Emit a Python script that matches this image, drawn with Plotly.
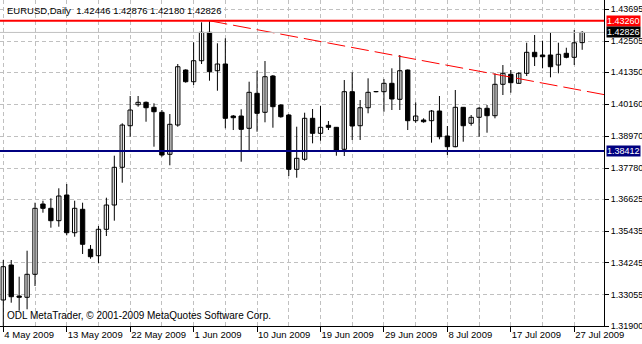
import plotly.graph_objects as go
from datetime import date

# ---------------- data ----------------
dates = [
    "2009-05-04", "2009-05-05", "2009-05-06", "2009-05-07", "2009-05-08", "2009-05-10",
    "2009-05-11", "2009-05-12", "2009-05-13", "2009-05-14", "2009-05-15", "2009-05-17",
    "2009-05-18", "2009-05-19", "2009-05-20", "2009-05-21", "2009-05-22", "2009-05-24",
    "2009-05-25", "2009-05-26", "2009-05-27", "2009-05-28", "2009-05-29", "2009-05-31",
    "2009-06-01", "2009-06-02", "2009-06-03", "2009-06-04", "2009-06-05", "2009-06-07",
    "2009-06-08", "2009-06-09", "2009-06-10", "2009-06-11", "2009-06-12", "2009-06-14",
    "2009-06-15", "2009-06-16", "2009-06-17", "2009-06-18", "2009-06-19", "2009-06-21",
    "2009-06-22", "2009-06-23", "2009-06-24", "2009-06-25", "2009-06-26", "2009-06-28",
    "2009-06-29", "2009-06-30", "2009-07-01", "2009-07-02", "2009-07-03", "2009-07-05",
    "2009-07-06", "2009-07-07", "2009-07-08", "2009-07-09", "2009-07-10", "2009-07-12",
    "2009-07-13", "2009-07-14", "2009-07-15", "2009-07-16", "2009-07-17", "2009-07-19",
    "2009-07-20", "2009-07-21", "2009-07-22", "2009-07-23", "2009-07-24", "2009-07-26",
    "2009-07-27", "2009-07-28",
]
opens = [
    1.32868, 1.34170, 1.33016, 1.32968, 1.33824, 1.36440,
    1.36280, 1.35819, 1.36775, 1.35372, 1.36243, 1.34754,
    1.34516, 1.35499, 1.36403, 1.37806, 1.39354, 1.40136,
    1.40225, 1.40039, 1.39853, 1.38290, 1.39380, 1.41427,
    1.40992, 1.41773, 1.42830, 1.41401, 1.41651, 1.39715,
    1.39715, 1.39258, 1.40560, 1.39853, 1.41204, 1.40125,
    1.39753, 1.37732, 1.38104, 1.39630, 1.39072, 1.39369,
    1.39295, 1.38476, 1.40620, 1.39354, 1.40024, 1.40620,
    1.40620, 1.40932, 1.40337, 1.41427, 1.39541, 1.39567,
    1.39541, 1.39901, 1.38971, 1.38573, 1.40039, 1.39444,
    1.39667, 1.40002, 1.39727, 1.40895, 1.41267, 1.40932,
    1.41305, 1.42086, 1.41986, 1.41986, 1.41613, 1.42049,
    1.41900, 1.42446,
]
highs = [
    1.34356, 1.34356, 1.33735, 1.34702, 1.36489, 1.36563,
    1.36652, 1.37025, 1.37185, 1.36563, 1.36489, 1.34914,
    1.35622, 1.36675, 1.38238, 1.39444, 1.40460, 1.40460,
    1.40255, 1.40188, 1.39939, 1.39790, 1.41651, 1.41453,
    1.42458, 1.43203, 1.43260, 1.42421, 1.42607, 1.39753,
    1.39965, 1.40992, 1.41401, 1.41762, 1.41241, 1.40151,
    1.39790, 1.39317, 1.39838, 1.39976, 1.40088, 1.39529,
    1.39306, 1.41055, 1.41342, 1.40311, 1.41118, 1.40646,
    1.41092, 1.41491, 1.41986, 1.41446, 1.40225, 1.39630,
    1.39939, 1.40460, 1.39343, 1.40683, 1.40050, 1.39753,
    1.40050, 1.40125, 1.41305, 1.41613, 1.41427, 1.41342,
    1.42443, 1.42730, 1.42518, 1.42830, 1.42443, 1.42257,
    1.42916, 1.42876,
]
lows = [
    1.31900, 1.32767, 1.32469, 1.32522, 1.33389, 1.36117,
    1.35558, 1.35596, 1.35275, 1.35223, 1.34580, 1.34405,
    1.34233, 1.35249, 1.35819, 1.37233, 1.38945, 1.40062,
    1.39503, 1.38573, 1.38201, 1.37881, 1.39317, 1.40955,
    1.40869, 1.41651, 1.41029, 1.40657, 1.39258, 1.39194,
    1.38015, 1.38450, 1.39131, 1.39481, 1.39280, 1.39652,
    1.37482, 1.37419, 1.38052, 1.38699, 1.38796, 1.39194,
    1.38238, 1.38227, 1.38822, 1.38822, 1.39816, 1.40597,
    1.39875, 1.39939, 1.39939, 1.39194, 1.39466, 1.39466,
    1.38722, 1.38848, 1.38264, 1.38551, 1.38759, 1.39354,
    1.38945, 1.39094, 1.39630, 1.40497, 1.40583, 1.40920,
    1.41204, 1.41576, 1.41491, 1.41156, 1.41305, 1.41863,
    1.41613, 1.42180,
]
closes = [
    1.34107, 1.32990, 1.32968, 1.33824, 1.36280, 1.36280,
    1.35819, 1.36738, 1.35372, 1.36280, 1.34941, 1.34479,
    1.35499, 1.36403, 1.37806, 1.39380, 1.39939, 1.40225,
    1.40024, 1.39875, 1.38264, 1.39407, 1.41550, 1.40992,
    1.41773, 1.42830, 1.41364, 1.41651, 1.39630, 1.39652,
    1.39220, 1.40597, 1.39816, 1.41178, 1.40062, 1.39689,
    1.37732, 1.38141, 1.39630, 1.39072, 1.39295, 1.39295,
    1.38450, 1.40620, 1.39343, 1.40024, 1.40597, 1.40625,
    1.40932, 1.40348, 1.41401, 1.39541, 1.39715, 1.39503,
    1.39901, 1.38945, 1.38573, 1.40039, 1.39354, 1.39667,
    1.40002, 1.39727, 1.40895, 1.41305, 1.40955, 1.41305,
    1.42086, 1.41922, 1.41922, 1.41550, 1.42012, 1.41900,
    1.42440, 1.42826,
]
price_ticks = [1.31900, 1.33055, 1.34245, 1.35435, 1.36625, 1.37780,
               1.38970, 1.40160, 1.41350, 1.42505, 1.43695]
resistance_level = 1.43260
support_level = 1.38412
bid_level = 1.42826
trend_bars = [26, 75.8]
trend_prices = [1.43260, 1.40510]
symbol_text = "EURUSD,Daily"
copyright_text = "ODL MetaTrader, \u00a9 2001-2009 MetaQuotes Software Corp."

# ---------------- figure ----------------
FONT = "Liberation Sans, Arial, sans-serif"
n = len(dates)
xs = list(range(n))

def date_label(s):
    d = date.fromisoformat(s)
    return f"{d.day} {d.strftime('%b %Y')}"

wick_x, wick_y = [], []
for i in xs:
    wick_x += [i, i, None]
    wick_y += [lows[i], highs[i], None]

body_base = [min(o, c) for o, c in zip(opens, closes)]
body_h = [max(abs(c - o), 0.00002) for o, c in zip(opens, closes)]
body_col = ["#ffffff" if c >= o else "#000000" for o, c in zip(opens, closes)]

fig = go.Figure()
fig.add_trace(go.Scatter(x=wick_x, y=wick_y, mode="lines",
                         line=dict(color="black", width=1), hoverinfo="skip"))
fig.add_trace(go.Bar(x=xs, y=body_h, base=body_base, width=0.55, opacity=1,
                     marker=dict(color=body_col, opacity=1,
                                 line=dict(color="#000000", width=1)),
                     hoverinfo="skip"))
fig.add_trace(go.Scatter(x=trend_bars, y=trend_prices, mode="lines",
                         line=dict(color="red", width=1, dash="18px,6px"),
                         hoverinfo="skip"))

for lvl, col, w in [(bid_level, "#c0c0c0", 1), (resistance_level, "red", 2),
                    (support_level, "#000080", 2)]:
    fig.add_shape(type="line", xref="paper", x0=0, x1=1, yref="y", y0=lvl, y1=lvl,
                  line=dict(color=col, width=w), layer="above")

grid = dict(showgrid=True, gridcolor="#c0c0c0", griddash="4px,3px", gridwidth=1)

fig.update_layout(
    width=642, height=344,
    margin=dict(l=0, r=38, t=0, b=18, pad=0, autoexpand=False),
    paper_bgcolor="white", plot_bgcolor="white",
    showlegend=False, hovermode=False,
    font=dict(family=FONT, size=10, color="black"),
    xaxis=dict(range=[-0.416, 75.75], tickmode="array",
               tickvals=xs[::8], ticktext=[date_label(dates[i]) for i in xs[::8]],
               tickangle=0, automargin=False,
               ticks="outside", ticklen=5, tickcolor="black",
               ticklabelposition="outside right", ticklabeloverflow="allow",
               showline=True, linecolor="black", linewidth=1, zeroline=False,
               minor=dict(tickvals=xs[4::8], ticks="", **grid),
               tickfont=dict(family=FONT, size=9.5, color="black"), **grid),
    yaxis=dict(side="right", range=[1.319, 1.44033], tickmode="array",
               tickvals=price_ticks, ticktext=[f"{p:.5f}" for p in price_ticks],
               automargin=False,
               ticks="outside", ticklen=4, tickcolor="black",
               showline=True, linecolor="black", linewidth=1, zeroline=False,
               tickfont=dict(family=FONT, size=9, color="black"), **grid),
)

header = symbol_text + "\u00a0\u00a0" + " ".join(
    f"{v:.5f}" for v in (opens[-1], highs[-1], lows[-1], closes[-1]))
fig.add_annotation(text=header, xref="paper", yref="paper", x=0, y=1,
                   xanchor="left", yanchor="top", xshift=5, yshift=-3,
                   showarrow=False, font=dict(family=FONT, size=9.5, color="black"))
fig.add_annotation(text=copyright_text, xref="paper", yref="paper", x=0, y=0,
                   xanchor="left", yanchor="bottom", xshift=5, yshift=3,
                   showarrow=False, font=dict(family=FONT, size=10, color="black"))

for lvl, col in [(resistance_level, "red"), (bid_level, "black"), (support_level, "#000080")]:
    fig.add_annotation(text=f"{lvl:.5f}", xref="paper", yref="y", x=1, y=lvl,
                       xanchor="left", yanchor="middle", xshift=2, showarrow=False,
                       bgcolor=col, borderpad=0,
                       font=dict(family=FONT, size=9, color="white"))

fig.write_html("out.html", config={"displayModeBar": False})
